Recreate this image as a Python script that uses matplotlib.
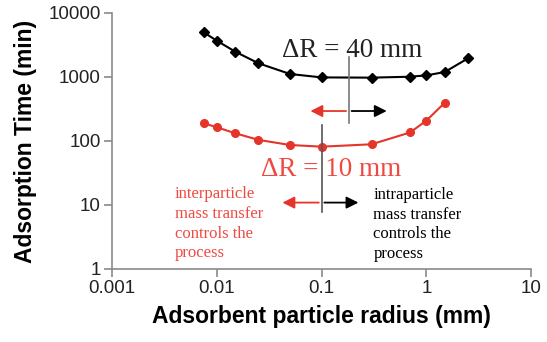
import matplotlib.pyplot as plt

# Data
radius_40 = [0.0075, 0.01, 0.015, 0.025, 0.05, 0.1, 0.3, 0.7, 1.0, 1.5, 2.5]
time_40 = [4990, 3690, 2485, 1637, 1114, 985, 977, 1010, 1060, 1196, 1960]

radius_10 = [0.0075, 0.01, 0.015, 0.025, 0.05, 0.1, 0.3, 0.7, 1.0, 1.5]
time_10 = [189, 164, 132, 104, 86.6, 81.5, 88.8, 136, 208, 397]

x_ticks = [0.001, 0.01, 0.1, 1, 10]
x_labels = ['0.001', '0.01', '0.1', '1', '10']
y_ticks = [1, 10, 100, 1000, 10000]
y_labels = ['1', '10', '100', '1000', '10000']

red = '#e5352b'
red_text = '#ee4a42'
axis_gray = '#8a8a8a'
serif = 'Liberation Serif'

plt.rcParams['font.family'] = 'Liberation Sans'

fig = plt.figure(figsize=(5.47, 3.42), dpi=100)
ax = fig.add_axes([0.2048, 0.2135, 0.971 - 0.2048, 0.962 - 0.2135])

ax.plot(radius_40, time_40, color='black', marker='D', markersize=5.5, lw=1.5)
ax.plot(radius_10, time_10, color=red, marker='o', markersize=5.5, lw=1.5)

ax.set_xscale('log')
ax.set_yscale('log')
ax.set_xlim(0.001, 10)
ax.set_ylim(1, 10000)
ax.set_xticks(x_ticks)
ax.set_xticklabels(x_labels)
ax.set_yticks(y_ticks)
ax.set_yticklabels(y_labels)
ax.minorticks_off()

for s in ['top', 'right']:
    ax.spines[s].set_visible(False)
for s in ['left', 'bottom']:
    ax.spines[s].set_color(axis_gray)
    ax.spines[s].set_linewidth(1.2)
ax.tick_params(direction='out', length=6, width=1.2, color=axis_gray,
               labelsize=13.5, labelcolor='#222222', pad=2)

ax.set_xlabel('Adsorbent particle radius (mm)', fontsize=16.5,
              fontweight='bold', labelpad=6)
ax.set_ylabel('Adsorption Time (min)', fontsize=16.5,
              fontweight='bold', labelpad=8)

arrow = dict(arrowstyle='-|>', lw=1.3, mutation_scale=18)

# dR = 40 mm marker
ax.plot([0.182, 0.182], [191, 2054], color='#777777', lw=1.2)
ax.annotate('', xy=(0.0736, 294), xytext=(0.182, 294),
            arrowprops=dict(arrow, color=red))
ax.annotate('', xy=(0.445, 294), xytext=(0.182, 294),
            arrowprops=dict(arrow, color='black'))
ax.text(0.197, 2630, 'ΔR = 40 mm', family=serif, fontsize=19.5,
        ha='center', va='center', color='#222222')

# dR = 10 mm marker
ax.plot([0.1, 0.1], [7.85, 178], color='#555555', lw=1.2)
ax.annotate('', xy=(0.0398, 10.9), xytext=(0.1, 10.9),
            arrowprops=dict(arrow, color=red))
ax.annotate('', xy=(0.239, 10.9), xytext=(0.1, 10.9),
            arrowprops=dict(arrow, color='black'))
ax.text(0.122, 36.5, 'ΔR = 10 mm', family=serif, fontsize=19.5,
        ha='center', va='center', color=red_text)

ax.text(0.00398, 19.5, 'interparticle\nmass transfer\ncontrols the\nprocess',
        family=serif, fontsize=12, color=red_text, ha='left', va='top',
        linespacing=1.3)
ax.text(0.312, 19, 'intraparticle\nmass transfer\ncontrols the\nprocess',
        family=serif, fontsize=12, color='black', ha='left', va='top',
        linespacing=1.3)

fig.savefig('out.png', dpi=100)
